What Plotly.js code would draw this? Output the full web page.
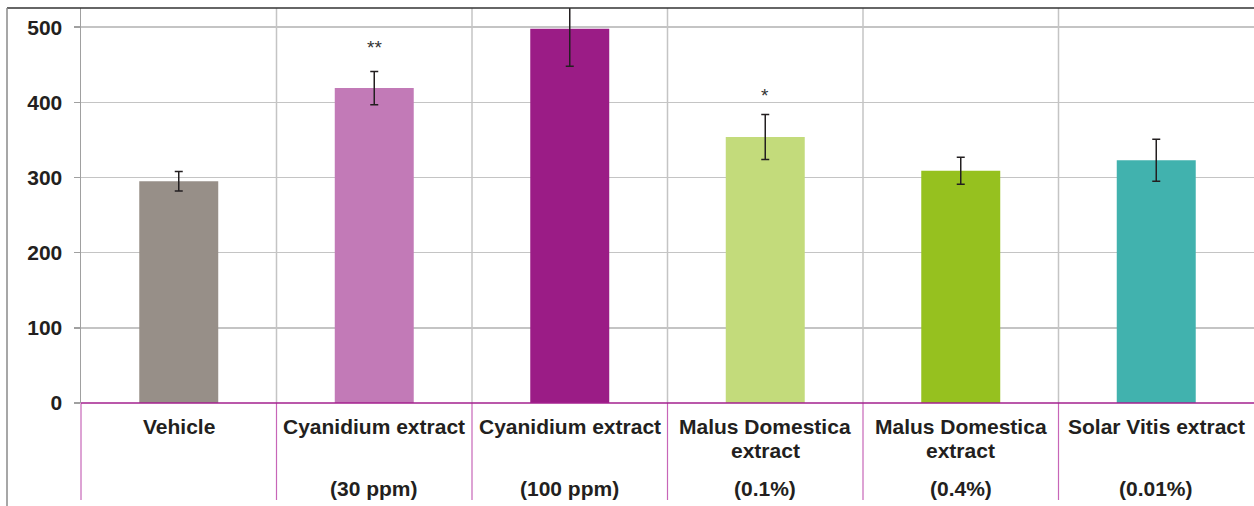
<!DOCTYPE html>
<html>
<head>
<meta charset="utf-8">
<script src="https://cdn.plot.ly/plotly-3.0.1.min.js"></script>
<style>html,body{margin:0;padding:0;background:#fff;}#chart{width:1254px;height:506px;}</style>
</head>
<body>
<div id="chart"></div>
<script>
// ---- data ----
const categories = ['Vehicle','Cyanidium 30 ppm','Cyanidium 100 ppm','Malus Domestica 0.1%','Malus Domestica 0.4%','Solar Vitis 0.01%'];
const values = [295, 419, 498, 354, 309, 323];
const errors = [13, 22, 50, 30, 18, 28];
const significance = ['', '**', '', '*', '', ''];
const significanceLevel = [null, 476, null, 412, null, null];
const labelLine1 = ['Vehicle','Cyanidium extract','Cyanidium extract','Malus Domestica','Malus Domestica','Solar Vitis extract'];
const labelLine2 = ['','','','extract','extract',''];
const labelLine3 = ['','(30 ppm)','(100 ppm)','(0.1%)','(0.4%)','(0.01%)'];
const yTicks = [0, 100, 200, 300, 400, 500];
const barColors = ['#978f88','#c27ab7','#9b1c86','#c3db7b','#96c11f','#41b2ae'];

// ---- layout helpers ----
const W = 1254, H = 506;
const mL = 81, mR = 0, mT = 8, mB = 103;
const plotW = W - mL - mR, plotH = H - mT - mB;
const pyToPaper = py => (H - mB - py) / plotH;
const pxToPaper = px => (px - mL) / plotW;
const textColor = '#231f20';
const font = {family: 'Liberation Sans, Arial, sans-serif', size: 21, color: textColor, weight: 'bold'};

const shapes = [];
const n = categories.length;
for (let k = 1; k < n; k++) {
  shapes.push({type:'line', xref:'paper', yref:'paper', x0:k/n, x1:k/n, y0:0, y1:1,
    line:{color:'#c4c4c4', width:1.5}, layer:'below'});
}
for (let k = 0; k < n; k++) {
  shapes.push({type:'line', xref:'paper', yref:'paper', x0:k/n, x1:k/n, y0:0, y1:pyToPaper(500),
    line:{color:'#c766b8', width:1.2}});
}
shapes.push({type:'line', xref:'paper', yref:'paper', x0:pxToPaper(7), x1:1.01, y0:1, y1:1,
  line:{color:'#333333', width:1.5}});
shapes.push({type:'line', xref:'paper', yref:'paper', x0:pxToPaper(7), x1:pxToPaper(7), y0:1, y1:pyToPaper(506),
  line:{color:'#8a8a8a', width:1.5}});
shapes.push({type:'line', xref:'paper', yref:'paper', x0:0, x1:1, y0:0, y1:0,
  line:{color:'#a3218e', width:1.5}});

const annotations = [];
const rows = [[labelLine1, 426], [labelLine2, 450], [labelLine3, 488]];
rows.forEach(([arr, py]) => {
  arr.forEach((t, i) => {
    if (!t) return;
    annotations.push({x: categories[i], xref:'x', y: pyToPaper(py), yref:'paper',
      text: t, showarrow:false, xanchor:'center', yanchor:'middle', font: font});
  });
});
significance.forEach((s, i) => {
  if (!s) return;
  annotations.push({x: categories[i], xref:'x', y: significanceLevel[i], yref:'y',
    text: s, showarrow:false, xanchor:'center', yanchor:'middle', yshift: -2,
    font:{family:'Liberation Sans, Arial, sans-serif', size:19, color:'#333333'}});
});

const trace = {
  type:'bar', x: categories, y: values,
  marker:{color: barColors, line:{width:0}},
  error_y:{type:'data', array: errors, visible:true, color:'#231f20', thickness:1.5, width:4},
  hoverinfo:'none'
};

const layout = {
  width: W, height: H,
  margin:{l:mL, r:mR, t:mT, b:mB, pad:0},
  paper_bgcolor:'#ffffff', plot_bgcolor:'#ffffff',
  showlegend:false,
  bargap: 0.596,
  xaxis:{type:'category', showticklabels:false, showgrid:false, zeroline:false, showline:false, ticks:'', fixedrange:true},
  yaxis:{range:[0, 525.6], tickvals: yTicks, ticktext: yTicks.map(String), showgrid:true, gridcolor:'#c4c4c4', gridwidth:1.5,
    zeroline:false, showline:true, linecolor:'#a0a0a0', linewidth:1.5,
    ticks:'outside', ticklen:6, tickcolor:'#a0a0a0', tickwidth:1.5, ticklabelstandoff:7,
    tickfont: font, fixedrange:true},
  shapes: shapes,
  annotations: annotations
};

Plotly.newPlot('chart', [trace], layout, {displayModeBar:false, staticPlot:true});
</script>
</body>
</html>
